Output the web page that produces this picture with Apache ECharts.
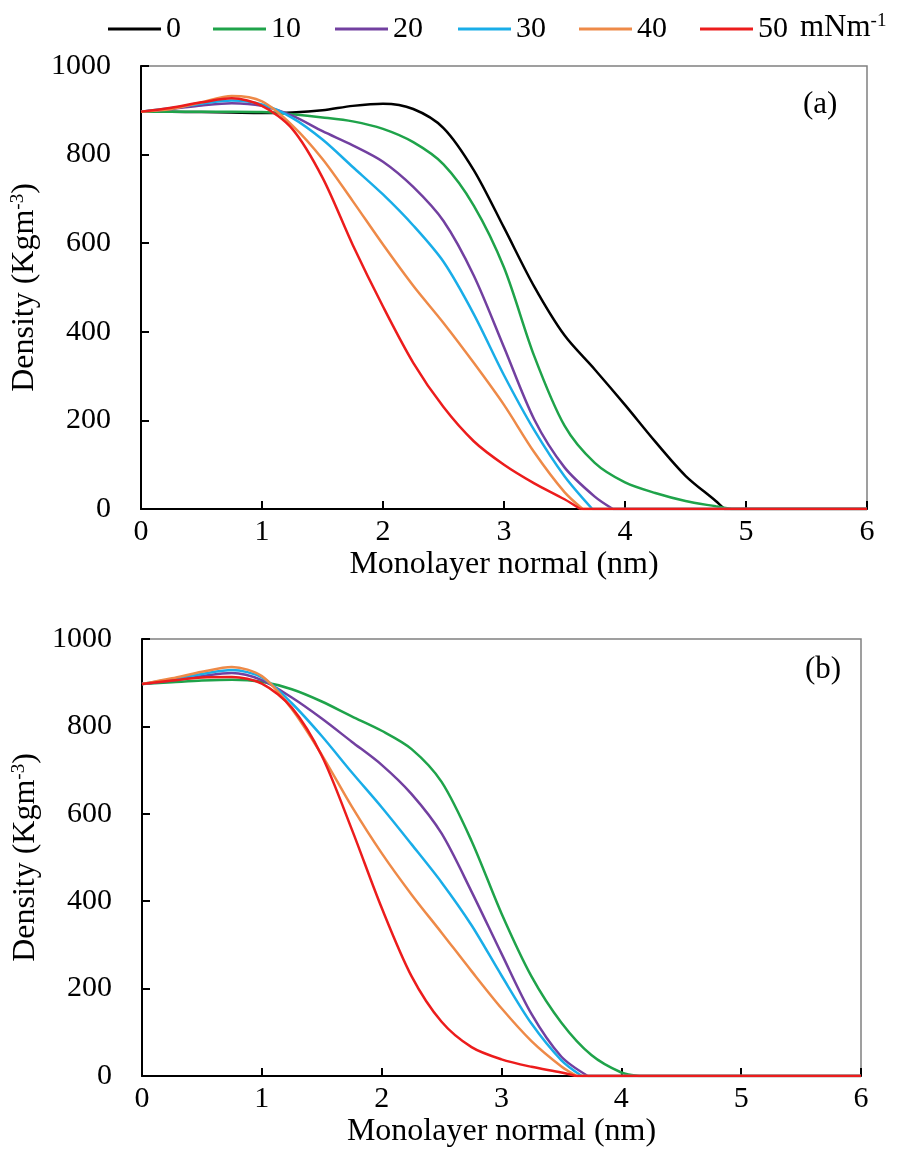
<!DOCTYPE html>
<html>
<head>
<meta charset="utf-8">
<script src="https://cdn.jsdelivr.net/npm/echarts@6/dist/echarts.min.js"></script>
<style>
  html, body { margin: 0; padding: 0; background: #fff; }
  #chart { width: 901px; height: 1153px; }
</style>
</head>
<body>
<div id="chart"></div>
<script>
// surface pressures (mNm-1)
var pressures = ['0', '10', '20', '30', '40', '50'];
var colors = ['#000000', '#1fa34a', '#7240a0', '#19ade8', '#ee8a48', '#ec1c1c'];

// common x positions (nm); each curve stops at its own zero point, then stays at 0
var xGrid = [0, 0.25, 0.5, 0.75, 1, 1.25, 1.5, 1.75, 2, 2.25, 2.5, 2.75, 3, 3.25, 3.5, 3.75, 4, 4.25, 4.5, 4.75];

// panel (a)
var yA0 = [897, 897, 896, 895, 894, 895, 900, 910, 915, 903, 860, 765, 635, 502, 392, 315, 235, 152, 75, 18];
var endA0 = 4.82;
var yA10 = [897, 897, 897, 897, 896, 891, 884, 875, 858, 828, 778, 685, 545, 345, 188, 104, 60, 36, 18, 6];
var endA10 = 4.88;
var yA20 = [897, 903, 911, 916, 910, 888, 853, 821, 784, 727, 650, 527, 365, 202, 94, 28];
var endA20 = 3.9;
var yA30 = [897, 905, 915, 922, 913, 883, 834, 772, 710, 640, 558, 440, 302, 178, 74];
var endA30 = 3.73;
var yA40 = [897, 903, 918, 932, 920, 866, 790, 695, 597, 504, 420, 330, 235, 128, 38];
var endA40 = 3.65;
var yA50 = [897, 906, 918, 927, 910, 858, 748, 596, 457, 330, 230, 153, 100, 58, 22];
var endA50 = 3.63;

// panel (b)
var yB10 = [897, 901, 905, 907, 902, 885, 857, 823, 790, 748, 673, 538, 372, 228, 122, 48, 8];
var endB10 = 4.15;
var yB20 = [897, 905, 915, 922, 906, 866, 818, 765, 712, 645, 555, 422, 280, 142, 44];
var endB20 = 3.72;
var yB30 = [897, 908, 920, 929, 912, 853, 778, 695, 615, 530, 443, 345, 230, 120, 36];
var endB30 = 3.67;
var yB40 = [897, 910, 925, 936, 915, 840, 735, 617, 510, 415, 328, 240, 155, 80, 22];
var endB40 = 3.63;
var yB50 = [897, 905, 912, 913, 898, 843, 733, 565, 385, 228, 124, 66, 38, 21, 8];
var endB50 = 3.62;

var xTicks = [0, 1, 2, 3, 4, 5, 6];
var yTicks = [0, 200, 400, 600, 800, 1000];

var font = 'Liberation Serif';

// curve up to its zero point, a break, then the flat zero part
function pairs(ys, end) {
  var d = ys.map(function (y, i) { return [xGrid[i], y]; });
  d.push([end, 0]);
  d.push([end, '-']);
  d.push([end, 0]);
  d.push([6, 0]);
  return d;
}

function line(name, idx, ys, end) {
  var c = colors[pressures.indexOf(name)];
  return {
    name: name, type: 'line', xAxisIndex: idx, yAxisIndex: idx,
    data: pairs(ys, end), smooth: 0.3, symbol: 'none', silent: true, connectNulls: false,
    lineStyle: { color: c, width: 2.5 }, itemStyle: { color: c }
  };
}

function xAxis(idx) {
  return {
    type: 'value', gridIndex: idx, min: 0, max: 6, interval: 1,
    name: 'Monolayer normal (nm)', nameLocation: 'middle', nameGap: 40,
    nameTextStyle: { fontFamily: font, fontSize: 32, color: '#000' },
    axisLine: { lineStyle: { color: '#000', width: 2 } },
    axisTick: { inside: true, length: 8, lineStyle: { color: '#000', width: 2 } },
    axisLabel: { fontFamily: font, fontSize: 30, color: '#000', margin: 8,
      formatter: function (v) { return xTicks.indexOf(v) >= 0 ? v : ''; } },
    splitLine: { show: false }
  };
}

function yAxis(idx) {
  return {
    type: 'value', gridIndex: idx, min: 0, max: 1000, interval: 200,
    name: 'Density (Kgm{sup|-3})', nameLocation: 'middle', nameGap: 99,
    nameTextStyle: { fontFamily: font, fontSize: 32, color: '#000',
      rich: { sup: { fontFamily: font, fontSize: 19, color: '#000', verticalAlign: 'top' } } },
    axisLine: { lineStyle: { color: '#000', width: 2 } },
    axisTick: { inside: true, length: 8, lineStyle: { color: '#000', width: 2 } },
    axisLabel: { fontFamily: font, fontSize: 30, color: '#000', margin: 30,
      formatter: function (v) { return yTicks.indexOf(v) >= 0 ? v : ''; } },
    splitLine: { show: false }
  };
}

var legendLeft = [108, 213, 335, 458, 579, 700];
var legends = pressures.map(function (p, i) {
  return {
    data: [p], left: legendLeft[i], top: 14, padding: 0, icon: 'rect', itemWidth: 53, itemHeight: 3,
    selectedMode: false,
    textStyle: { fontFamily: font, fontSize: 30, color: '#000' }
  };
});

var chart = echarts.init(document.getElementById('chart'));
chart.setOption({
  backgroundColor: '#fff',
  animation: false,
  legend: legends,
  grid: [
    { left: 141, top: 66, width: 726, height: 443, show: true, borderColor: '#808080', borderWidth: 1.5, backgroundColor: 'transparent' },
    { left: 142, top: 639, width: 719, height: 437, show: true, borderColor: '#808080', borderWidth: 1.5, backgroundColor: 'transparent' }
  ],
  xAxis: [xAxis(0), xAxis(1)],
  yAxis: [yAxis(0), yAxis(1)],
  graphic: [
    { type: 'text', left: 800, top: 12, style: { text: 'mNm{sup|-1}', fontFamily: font, fontSize: 31, fill: '#000',
      rich: { sup: { fontFamily: font, fontSize: 19, fill: '#000', verticalAlign: 'top' } } } },
    { type: 'text', left: 803, top: 89, style: { text: '(a)', fontFamily: font, fontSize: 31, fill: '#000' } },
    { type: 'text', left: 805, top: 654, style: { text: '(b)', fontFamily: font, fontSize: 31, fill: '#000' } }
  ],
  series: [
    line('0', 0, yA0, endA0),
    line('10', 0, yA10, endA10),
    line('20', 0, yA20, endA20),
    line('30', 0, yA30, endA30),
    line('40', 0, yA40, endA40),
    line('50', 0, yA50, endA50),
    line('10', 1, yB10, endB10),
    line('20', 1, yB20, endB20),
    line('30', 1, yB30, endB30),
    line('40', 1, yB40, endB40),
    line('50', 1, yB50, endB50)
  ]
});
</script>
</body>
</html>
